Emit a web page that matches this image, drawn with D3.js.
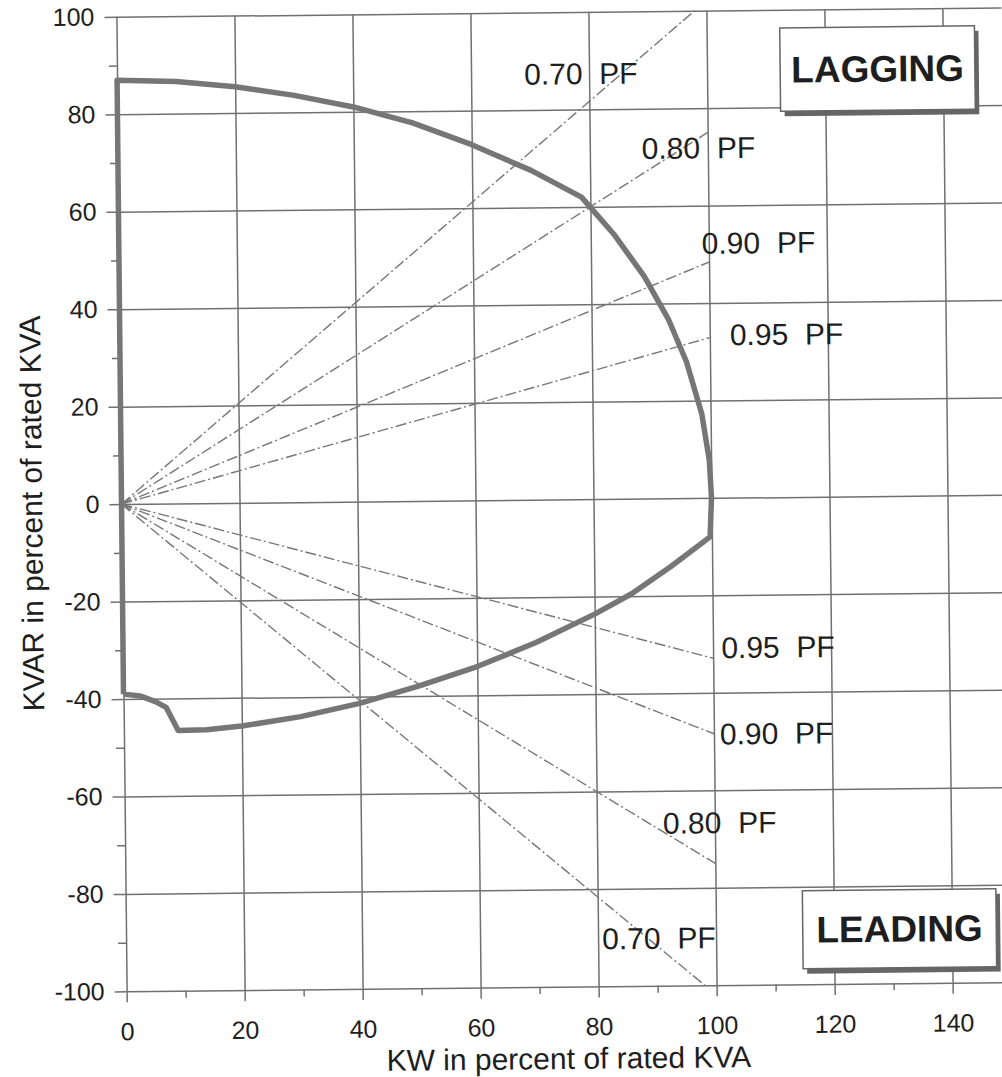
<!DOCTYPE html>
<html>
<head>
<meta charset="utf-8">
<script src="https://cdn.jsdelivr.net/npm/d3@7"></script>
<style>
body { margin: 0; background: #fff; }
text { font-family: "Liberation Sans", Arial, sans-serif; }
</style>
</head>
<body>
<div id="chart"></div>
<script>
const xTicks = [0, 20, 40, 60, 80, 100, 120, 140]
const xMinor = [10, 30, 50, 70, 90, 110, 130, 150]
const yTicks = [-100, -80, -60, -40, -20, 0, 20, 40, 60, 80, 100]
const yMinor = [-90, -70, -50, -30, -10, 10, 30, 50, 70, 90]

// generator capability curve (KW, KVAR in percent of rated KVA)
const capKw   = [0, 0, 10, 20, 30, 40, 50, 60, 70, 78.5, 84, 89, 93, 96, 98.5, 99.7, 100, 99.7, 93, 86.3, 80, 70, 60, 50, 40, 30, 20, 14, 9.2, 7.2, 5.4, 2.8, 0]
const capKvar = [-39, 87, 86.6, 85.4, 83.5, 81, 77.6, 73, 67.6, 62, 54.2, 45.6, 36.8, 28, 17.3, 7.7, 0, -8, -14, -19.5, -23.6, -29.3, -34.1, -38, -41.4, -44, -45.8, -46.5, -46.6, -41.8, -40.6, -39.4, -39]

// power factor lines, lagging then leading
const pfNames   = ["0.70", "0.80", "0.90", "0.95", "0.95", "0.90", "0.80", "0.70"]
const pfEndKw   = [98, 100, 100, 100, 100, 100, 100, 98]
const pfEndKvar = [100, 75, 48.4, 32.9, -32.9, -48.4, -75, -100]

// where the pf labels sit (data units)
const pfLabelAt = [[69, 85.2], [88.8, 69.7], [98.8, 50.1], [103.4, 31.3],
                   [101.4, -32.9], [101, -50.6], [91.2, -68.8], [80.7, -92.4]]

const boxes = [
    {text: "LAGGING", x0: 112.4, x1: 145.4, y0: 96.3, y1: 79.2},
    {text: "LEADING", x0: 114.7, x1: 147.5, y0: -80.8, y1: -96.8}
]

const width = 1002, height = 1077
const gridColor = "#707070"

let svg = d3.select('#chart')
    .append('svg')
    .attr('width', width)
    .attr('height', height)

// the scanned original is turned a little, follow it
let chart = svg.append('g')
    .attr('transform', 'rotate(-0.6,560,500)')

let x = d3.scaleLinear().domain([0, 150]).range([121.5, 1006.5])
let y = d3.scaleLinear().domain([-100, 100]).range([986.8, 12.2])

function styleAxis(sel, size){
    sel.select('.domain').remove()
    sel.selectAll('.tick line').attr('stroke', gridColor).attr('stroke-width', 1.5)
    sel.selectAll('.tick text')
        .attr('fill', '#1e1e1e')
        .style('font-size', size + 'px')
        .style('font-family', '"Liberation Sans", Arial, sans-serif')
}

// grid
chart.append('g')
    .attr('transform', `translate(0,${y(-100)})`)
    .call(d3.axisBottom(x).tickValues(xTicks).tickSize(-(y(-100) - y(100))).tickFormat(''))
    .call(g => styleAxis(g, 0))

chart.append('g')
    .attr('transform', `translate(${x(0)},0)`)
    .call(d3.axisLeft(y).tickValues(yTicks).tickSize(-(x(150) - x(0))).tickFormat(''))
    .call(g => styleAxis(g, 0))

// ticks and labels
chart.append('g')
    .attr('transform', `translate(0,${y(-100)})`)
    .call(d3.axisBottom(x).tickValues(xTicks).tickSize(11).tickPadding(20).tickFormat(d => String(d)))
    .call(g => styleAxis(g, 25))

chart.append('g')
    .attr('transform', `translate(0,${y(-100)})`)
    .call(d3.axisBottom(x).tickValues(xMinor).tickSize(7).tickFormat(''))
    .call(g => styleAxis(g, 0))

chart.append('g')
    .attr('transform', `translate(${x(0)},0)`)
    .call(d3.axisLeft(y).tickValues(yTicks).tickSize(12).tickPadding(10).tickFormat(d => String(d)))
    .call(g => styleAxis(g, 25))

chart.append('g')
    .attr('transform', `translate(${x(0)},0)`)
    .call(d3.axisLeft(y).tickValues(yMinor).tickSize(8).tickFormat(''))
    .call(g => styleAxis(g, 0))

// power factor lines
chart.selectAll('.pf-line')
    .data(pfNames)
    .join('line')
    .attr('class', 'pf-line')
    .attr('x1', x(0))
    .attr('y1', y(0))
    .attr('x2', (d, i) => x(pfEndKw[i]))
    .attr('y2', (d, i) => y(pfEndKvar[i]))
    .attr('stroke', '#777')
    .attr('stroke-width', 1.4)
    .attr('stroke-dasharray', '11,3,2,3')

// capability curve
chart.append('path')
    .datum(d3.range(capKw.length))
    .attr('fill', 'none')
    .attr('stroke', '#767676')
    .attr('stroke-width', 5.5)
    .attr('stroke-linejoin', 'round')
    .attr('d', d3.line()
        .x(i => x(capKw[i]))
        .y(i => y(capKvar[i])))

// pf labels
chart.selectAll('.pf-label')
    .data(pfNames)
    .join('text')
    .attr('class', 'pf-label')
    .attr('x', (d, i) => x(pfLabelAt[i][0]))
    .attr('y', (d, i) => y(pfLabelAt[i][1]))
    .attr('fill', '#1e1e1e')
    .style('font-size', '30px')
    .style('white-space', 'pre')
    .text(d => d + '  PF')

// lagging / leading boxes
let box = chart.selectAll('.box')
    .data(boxes)
    .join('g')
    .attr('class', 'box')

box.append('rect')
    .attr('x', d => x(d.x0) + 4)
    .attr('y', d => y(d.y0) + 5)
    .attr('width', d => x(d.x1) - x(d.x0))
    .attr('height', d => y(d.y1) - y(d.y0))
    .attr('fill', '#666')

box.append('rect')
    .attr('x', d => x(d.x0))
    .attr('y', d => y(d.y0))
    .attr('width', d => x(d.x1) - x(d.x0))
    .attr('height', d => y(d.y1) - y(d.y0))
    .attr('fill', '#fff')
    .attr('stroke', '#666')
    .attr('stroke-width', 1.5)

box.append('text')
    .attr('x', d => (x(d.x0) + x(d.x1)) / 2)
    .attr('y', d => (y(d.y0) + y(d.y1)) / 2 + 13)
    .attr('text-anchor', 'middle')
    .attr('fill', '#1e1e1e')
    .style('font-size', '37px')
    .style('font-weight', 'bold')
    .text(d => d.text)

// axis titles
chart.append('text')
    .attr('x', 563)
    .attr('y', 1069)
    .attr('text-anchor', 'middle')
    .attr('fill', '#1e1e1e')
    .style('font-size', '30px')
    .text('KW in percent of rated KVA')

chart.append('text')
    .attr('transform', 'translate(42,508) rotate(-90)')
    .attr('text-anchor', 'middle')
    .attr('fill', '#1e1e1e')
    .style('font-size', '30px')
    .text('KVAR in percent of rated KVA')
</script>
</body>
</html>
